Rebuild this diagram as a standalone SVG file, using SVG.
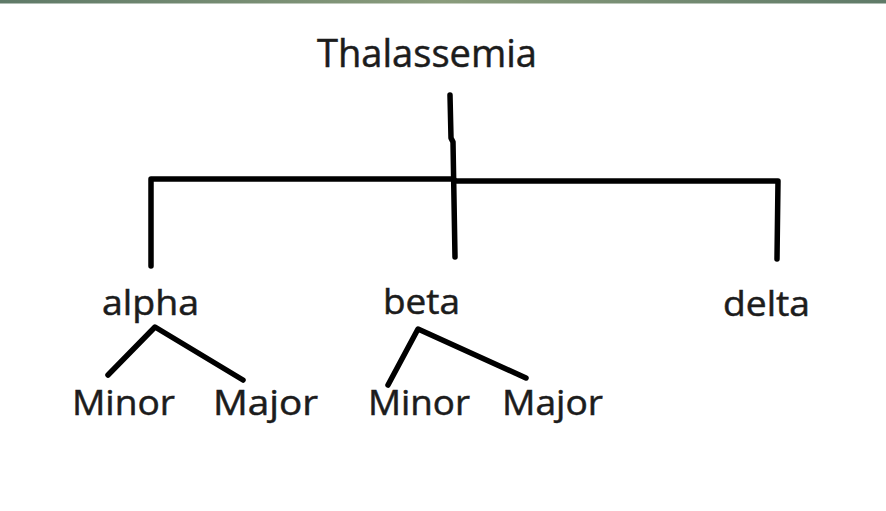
<svg xmlns="http://www.w3.org/2000/svg" width="886" height="511" viewBox="0 0 886 511">
<style>
.t{font-family:"Open Sans","Liberation Sans",sans-serif;fill:#1c1c1c;stroke:#1c1c1c;stroke-width:0.5}
.big{font-size:38px}
.lbl{font-size:34px}
.ln{fill:none;stroke:#000;stroke-width:5.5;stroke-linecap:round;stroke-linejoin:round}
</style>
<defs>
<linearGradient id="bar" x1="0" y1="0" x2="1" y2="0">
<stop offset="0" stop-color="#5f7a68"/>
<stop offset="0.5" stop-color="#8a9c7c"/>
<stop offset="1" stop-color="#5f7a68"/>
</linearGradient>
</defs>
<rect width="886" height="511" fill="#ffffff"/>
<rect width="886" height="3.5" fill="url(#bar)"/>
<g id="connectors">
<path class="ln" d="M450,95 L451,138 L453,142 L455,257"/>
<path class="ln" d="M151,266 L151,179 L453,179 L456,181 L778,181 L777,259"/>
<path class="ln" d="M108,375 L155,327 L243,380"/>
<path class="ln" d="M388,385 L418,329 L526,378"/>
</g>
<g id="thalassemia"><text class="t big" x="317" y="67" textLength="220" lengthAdjust="spacingAndGlyphs">Thalassemia</text></g>
<g id="alpha"><text class="t lbl" x="102" y="315" textLength="97" lengthAdjust="spacingAndGlyphs">alpha</text></g>
<g id="beta"><text class="t lbl" x="383" y="314" textLength="77" lengthAdjust="spacingAndGlyphs">beta</text></g>
<g id="delta"><text class="t lbl" x="723" y="316" textLength="87" lengthAdjust="spacingAndGlyphs">delta</text></g>
<g id="alpha-minor"><text class="t lbl" x="72" y="415" textLength="103" lengthAdjust="spacingAndGlyphs">Minor</text></g>
<g id="alpha-major"><text class="t lbl" x="213" y="415" textLength="105" lengthAdjust="spacingAndGlyphs">Major</text></g>
<g id="beta-minor"><text class="t lbl" x="368" y="415" textLength="102" lengthAdjust="spacingAndGlyphs">Minor</text></g>
<g id="beta-major"><text class="t lbl" x="502" y="415" textLength="101" lengthAdjust="spacingAndGlyphs">Major</text></g>
</svg>
